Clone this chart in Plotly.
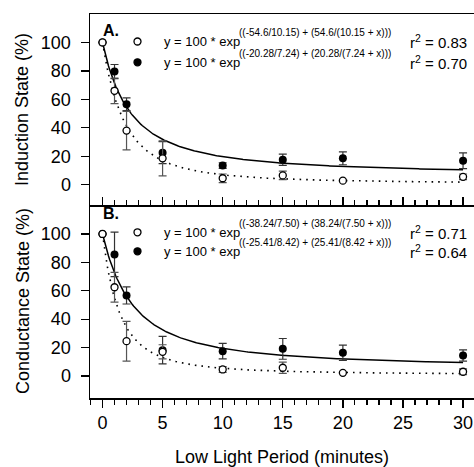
import numpy as np
import plotly.graph_objects as go

# ---------------- data ----------------
minutes = [0, 1, 2, 5, 10, 15, 20, 30]

ind_open = [100, 66, 38, 18.5, 4.5, 6.5, 2.8, 5.5]
ind_open_err = [0, 9, 13.5, 12.3, 3, 3, 0, 2]
ind_filled = [100, 79.5, 56.5, 22.5, 13.4, 17.5, 18.5, 16.8]
ind_filled_err = [0, 5, 4.5, 7.7, 2, 4, 4.5, 5.5]

cond_open = [100, 62.5, 24.5, 17, 4.6, 5.8, 2.2, 3]
cond_open_err = [0, 10.5, 14, 5, 2, 4, 0, 2]
cond_filled = [100, 85.6, 56.7, 18.2, 17.5, 19.1, 16.3, 14.4]
cond_filled_err = [0, 15.7, 6, 9.7, 5.4, 7.3, 5.4, 4]

# fitted equation parameters (a, b): y = 100*exp(-a/b + a/(b+x))
ind_open_fit = (54.6, 10.15)
ind_filled_fit = (20.28, 7.24)
cond_open_fit = (38.24, 7.50)
cond_filled_fit = (25.41, 8.42)

ind_open_lbl = ("y = 100 * exp", "((-54.6/10.15) + (54.6/(10.15 + x)))", "0.83")
ind_filled_lbl = ("y = 100 * exp", "((-20.28/7.24) + (20.28/(7.24 + x)))", "0.70")
cond_open_lbl = ("y = 100 * exp", "((-38.24/7.50) + (38.24/(7.50 + x)))", "0.71")
cond_filled_lbl = ("y = 100 * exp", "((-25.41/8.42) + (25.41/(8.42 + x)))", "0.64")

x_ticks = [0, 5, 10, 15, 20, 25, 30]
y_ticks = [0, 20, 40, 60, 80, 100]

# ---------------- figure ----------------
W, H = 474, 467
ML, MR, MT, MB = 90, 0, 14, 69
PW, PH = W - ML - MR, H - MT - MB
FONT = "Liberation Sans, Arial, Helvetica, sans-serif"


def px(x):
    return (x - ML) / PW


def py(y):
    return (H - MB - y) / PH


split = py(205)


def fit(params, xs):
    a, b = params
    xs = np.asarray(xs, dtype=float)
    return 100 * np.exp(-a / b + a / (b + xs))


xs_fit = np.linspace(0, 30, 301)

fig = go.Figure()


def add_panel(xa, ya, filled, filled_err, opened, opened_err, ffit, ofit):
    fig.add_trace(go.Scatter(x=xs_fit, y=fit(ffit, xs_fit), mode="lines",
                             line=dict(color="black", width=1.5),
                             xaxis=xa, yaxis=ya, hoverinfo="skip"))
    fig.add_trace(go.Scatter(x=xs_fit, y=fit(ofit, xs_fit), mode="lines",
                             line=dict(color="black", width=1.6, dash="1.6px,5px"),
                             xaxis=xa, yaxis=ya, hoverinfo="skip"))
    fig.add_trace(go.Scatter(x=minutes, y=filled, mode="markers",
                             marker=dict(color="black", size=8),
                             error_y=dict(type="data", array=filled_err, color="#333",
                                          thickness=1.2, width=4),
                             xaxis=xa, yaxis=ya))
    fig.add_trace(go.Scatter(x=minutes, y=opened, mode="markers",
                             marker=dict(color="white", size=7,
                                         line=dict(color="black", width=1.3)),
                             error_y=dict(type="data", array=opened_err, color="#555",
                                          thickness=1.2, width=4),
                             xaxis=xa, yaxis=ya))


add_panel("x2", "y2", ind_filled, ind_filled_err, ind_open, ind_open_err,
          ind_filled_fit, ind_open_fit)
add_panel("x", "y", cond_filled, cond_filled_err, cond_open, cond_open_err,
          cond_filled_fit, cond_open_fit)

xr = [-1.04, 30.91]
common_x = dict(range=xr, tickvals=x_ticks, showgrid=False, zeroline=False,
                showline=True, linecolor="black", linewidth=1.5,
                tickcolor="black", tickwidth=1.3, ticklen=8)
common_y = dict(tickvals=y_ticks, showgrid=False, zeroline=False,
                showline=True, linecolor="black", linewidth=1.5,
                ticks="outside", tickcolor="black", tickwidth=1.3, ticklen=8,
                tickfont=dict(size=18, color="black", family=FONT),
                ticklabelstandoff=6)

fig.update_layout(
    width=W, height=H,
    margin=dict(l=ML, r=MR, t=MT, b=MB),
    paper_bgcolor="white", plot_bgcolor="white",
    showlegend=False,
    font=dict(family=FONT, color="black"),
    xaxis=dict(**common_x, anchor="y", domain=[0, 1], ticks="outside",
               tickfont=dict(size=18, color="black", family=FONT),
               minor=dict(dtick=1, ticks="outside", ticklen=5,
                          tickcolor="black", tickwidth=1.2)),
    yaxis=dict(**common_y, domain=[0, split], range=[-15.5, 120.4]),
    xaxis2=dict(**common_x, anchor="y2", matches="x", ticks="inside",
                showticklabels=False, mirror=True,
                minor=dict(dtick=1, ticks="inside", ticklen=5,
                           tickcolor="black", tickwidth=1.2)),
    yaxis2=dict(**common_y, domain=[split, 1], range=[-14.3, 120.0]),
)

ann = []
shapes = []


def legend_rows(rows, ys):
    for (lbl, filled), yy in zip(rows, ys):
        main, sup, r2 = lbl
        ann.append(dict(x=px(162), y=py(yy + 0.5), xref="paper", yref="paper",
                        text=main, showarrow=False, xanchor="left", yanchor="middle",
                        font=dict(size=13)))
        ann.append(dict(x=px(237), y=py(yy - 8.5), xref="paper", yref="paper",
                        text=sup, showarrow=False, xanchor="left", yanchor="middle",
                        font=dict(size=10)))
        ann.append(dict(x=px(408), y=py(yy + 0.5), xref="paper", yref="paper",
                        text="r<sup>2</sup> = " + r2, showarrow=False,
                        xanchor="left", yanchor="middle", font=dict(size=15)))
        shapes.append(dict(type="circle", xref="paper", yref="paper",
                           xsizemode="pixel", ysizemode="pixel",
                           xanchor=px(137.5), yanchor=py(yy),
                           x0=-3.5, x1=3.5, y0=-3.5, y1=3.5,
                           fillcolor="black" if filled else "white",
                           line=dict(color="black", width=1.3)))


legend_rows([(ind_open_lbl, False), (ind_filled_lbl, True)], [41.5, 62.3])
legend_rows([(cond_open_lbl, False), (cond_filled_lbl, True)], [232.3, 251.3])

ann.append(dict(x=px(101), y=py(30.5), xref="paper", yref="paper", text="<b>A.</b>",
                showarrow=False, xanchor="left", yanchor="middle", font=dict(size=16)))
ann.append(dict(x=px(101), y=py(214), xref="paper", yref="paper", text="<b>B.</b>",
                showarrow=False, xanchor="left", yanchor="middle", font=dict(size=16)))
ann.append(dict(x=px(22.5), y=py(109.5), xref="paper", yref="paper",
                text="Induction State (%)", textangle=-90, showarrow=False,
                xanchor="center", yanchor="middle", font=dict(size=18)))
ann.append(dict(x=px(22.5), y=py(301.5), xref="paper", yref="paper",
                text="Conductance State (%)", textangle=-90, showarrow=False,
                xanchor="center", yanchor="middle", font=dict(size=18)))
ann.append(dict(x=px(282), y=py(457), xref="paper", yref="paper",
                text="Low Light Period (minutes)", showarrow=False,
                xanchor="center", yanchor="middle", font=dict(size=18)))

fig.update_layout(annotations=ann, shapes=shapes)

fig.write_html("out.html",
               config={"displayModeBar": False, "staticPlot": True},
               post_script="document.body.style.margin='0';"
                           "document.body.style.padding='0';"
                           "document.body.style.overflow='hidden';")
